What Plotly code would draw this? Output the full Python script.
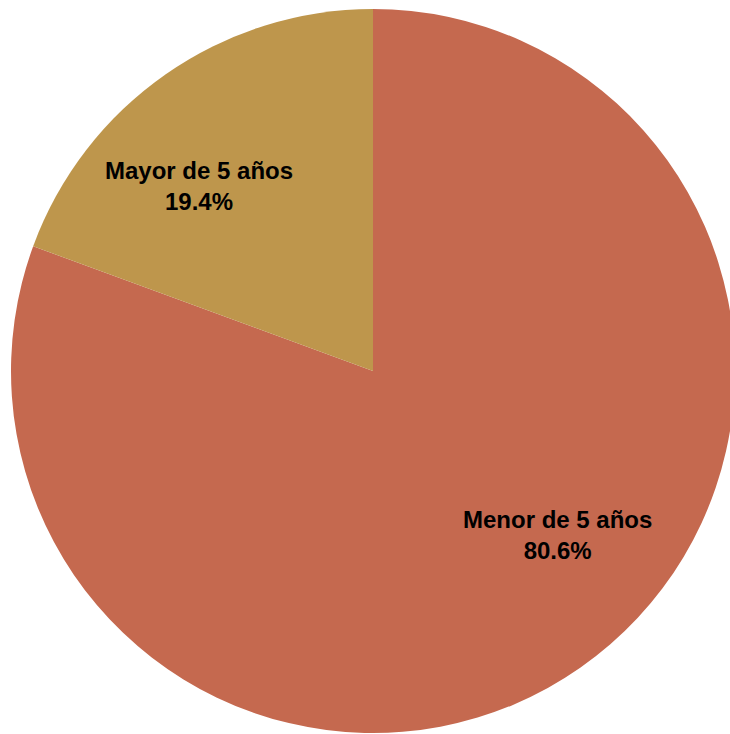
import plotly.graph_objects as go

labels = ["Menor de 5 años", "Mayor de 5 años"]
values = [80.6, 19.4]
colors = ["#C5694F", "#BE964C"]

# layout / styling (page pixel coordinates, body margin removed)
W, H = 736, 734
cx, cy, r = 373, 371, 362          # pie centre (from top-left) and radius
label_offsets = [(0.511, 0.454), (-0.481, -0.512)]  # label centre relative to pie centre, in radii

fig = go.Figure(go.Pie(
    labels=labels,
    values=values,
    sort=False,
    direction="clockwise",
    rotation=0,
    marker=dict(colors=colors, line=dict(width=0)),
    textinfo="none",
    hoverinfo="skip",
    domain=dict(x=[(cx - r) / W, (cx + r) / W],
                y=[(H - cy - r) / H, (H - cy + r) / H]),
))

total = sum(values)
for lab, val, (ox, oy) in zip(labels, values, label_offsets):
    px = cx + ox * r
    py = cy + oy * r
    fig.add_annotation(
        x=px / W, y=1 - py / H, xref="paper", yref="paper",
        text=f"<b>{lab}</b><br><b>{val / total * 100:.1f}%</b>",
        showarrow=False, xanchor="center", yanchor="middle",
        font=dict(family="Liberation Sans", size=24, color="black"),
    )

fig.update_layout(
    width=W, height=H,
    margin=dict(l=0, r=0, t=0, b=0),
    showlegend=False,
    paper_bgcolor="white",
    plot_bgcolor="white",
)
fig.write_html(
    "out.html",
    config={"displayModeBar": False},
    post_script=("document.body.style.margin='0';"
                 "document.documentElement.style.overflow='hidden';"
                 "document.body.style.overflow='hidden';"),
)
